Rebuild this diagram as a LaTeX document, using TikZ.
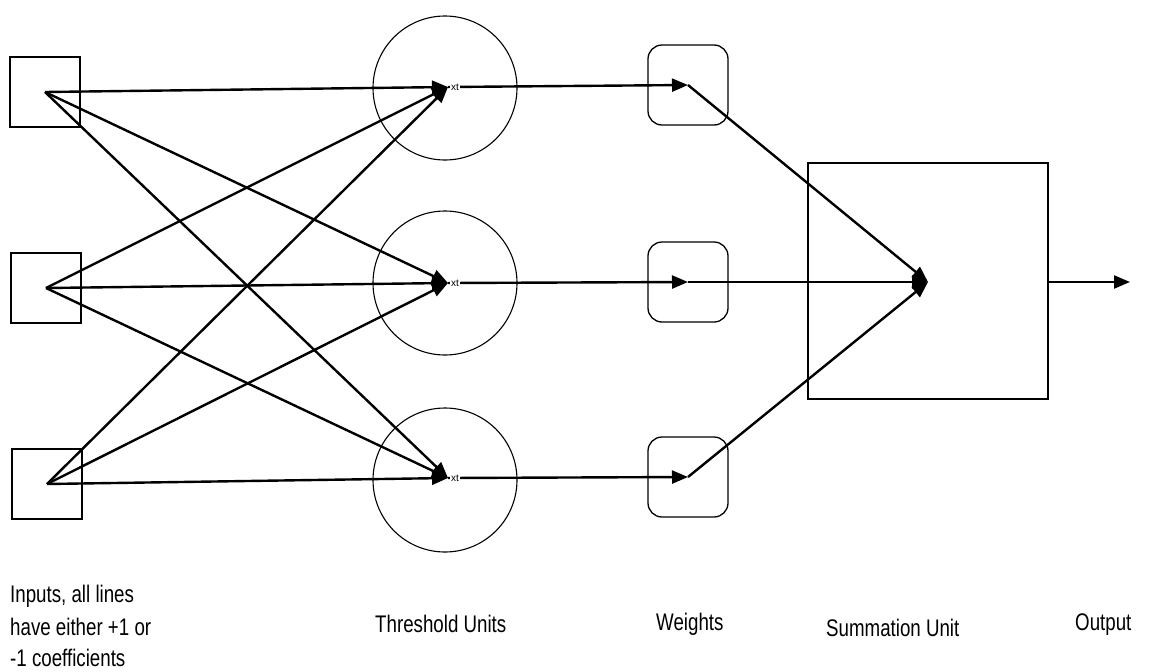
\documentclass[tikz,border=0pt]{standalone}
\usepackage{fontspec}
\setmainfont{Liberation Sans}
\newfontfamily\labfont[FakeStretch=0.78]{Liberation Sans}
\usetikzlibrary{arrows.meta}
\begin{document}
\begin{tikzpicture}[x=1pt,y=-1pt,
  inbox/.style={draw,line width=1.3pt,minimum size=70pt,inner sep=0pt},
  thr/.style={draw,line width=1.1pt,circle,minimum size=144pt,inner sep=0pt},
  wbox/.style={draw,line width=1.3pt,rounded corners=14pt,minimum size=80pt,inner sep=0pt},
  sumbox/.style={draw,line width=1.3pt,minimum width=240pt,minimum height=236pt,inner sep=0pt},
  conn/.style={line width=2.4pt,-{Triangle[length=16pt,width=13pt]}},
  lab/.style={font=\labfont\fontsize{24}{28}\selectfont,inner sep=0pt},
  tiny/.style={font=\fontsize{10}{10}\selectfont,inner sep=0pt}]
\useasboundingbox (0,0) rectangle (1170,672);
% input boxes
\node[inbox] (in1) at (45,92) {};
\node[inbox] (in2) at (46,288) {};
\node[inbox] (in3) at (47,484) {};
% threshold circles
\node[thr] (c1) at (445,88) {};
\node[thr] (c2) at (445,283) {};
\node[thr] (c3) at (445,480) {};
\coordinate (t1) at (448,87);
\coordinate (t2) at (448,283);
\coordinate (t3) at (448,478);
% weights
\node[wbox] (w1) at (688,85) {};
\node[wbox] (w2) at (688,282) {};
\node[wbox] (w3) at (688,477) {};
% summation
\node[sumbox] (s) at (928,281) {};
\coordinate (sig) at (928,282);
\coordinate (out) at (1130,282);
% input to threshold connections
\foreach \i in {1,2,3}{
  \foreach \j in {1,2,3}{
    \draw[conn] (in\i.center) -- (t\j);
  }
}
% threshold to weights
\draw[conn] (t1) -- (w1.center);
\draw[conn] (t2) -- (w2.center);
\draw[conn] (t3) -- (w3.center);
% small residual labels
\node[tiny,anchor=west,fill=white,inner xsep=1pt] (x1) at (450,87) {xt};
\node[tiny,anchor=west,fill=white,inner xsep=1pt] (x2) at (450,283) {xt};
\node[tiny,anchor=west,fill=white,inner xsep=1pt] (x3) at (450,478) {xt};
% weights to summation
\draw[conn] (w1.center) -- (sig);
\draw[conn] (w2.center) -- (sig);
\draw[conn] (w3.center) -- (sig);
% output
\draw[conn] (s.east |- sig) -- (out);
% labels
\node[lab,anchor=base west] (l1) at (10,602) {Inputs, all lines};
\node[lab,anchor=base west] (l2) at (10,635) {have either +1 or};
\node[lab,anchor=base west] (l3) at (10,666) {-1 coefficients};
\node[lab,anchor=base west] (l4) at (375,632) {Threshold Units};
\node[lab,anchor=base west] (l5) at (656,630) {Weights};
\node[lab,anchor=base west] (l6) at (826,636) {Summation Unit};
\node[lab,anchor=base west] (l7) at (1075,630) {Output};
\end{tikzpicture}
\end{document}
